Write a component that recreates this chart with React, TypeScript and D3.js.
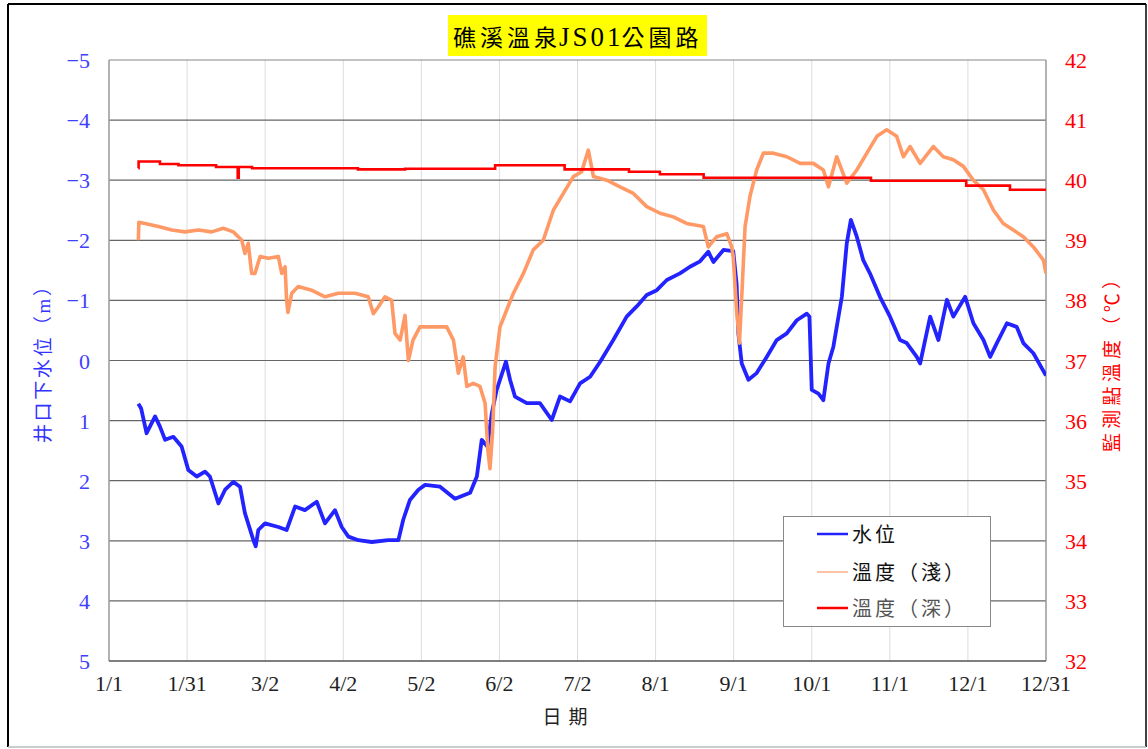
import React from 'react';
import * as d3 from 'd3';

// ---------- data ----------
const xTickLabels = ['1/1', '1/31', '3/2', '4/2', '5/2', '6/2', '7/2', '8/1', '9/1', '10/1', '11/1', '12/1', '12/31'];
const leftTicks = [-5, -4, -3, -2, -1, 0, 1, 2, 3, 4, 5];
const rightTicks = [42, 41, 40, 39, 38, 37, 36, 35, 34, 33, 32];

// [day of year (0 = 1/1), water level below wellhead (m)]
const waterLevel: [number, number][] = [
  [11.4, 0.72], [12.5, 0.8], [14.6, 1.21], [17.9, 0.93], [19.8, 1.1], [21.8, 1.32], [25.0, 1.27],
  [28.2, 1.43], [30.8, 1.82], [34.1, 1.93], [37.3, 1.85], [39.2, 1.93], [42.5, 2.38], [45.1, 2.15],
  [48.3, 2.02], [50.9, 2.1], [52.8, 2.54], [56.1, 2.99], [57.0, 3.09], [58.0, 2.82], [60.6, 2.71],
  [65.8, 2.77], [69.0, 2.82], [72.3, 2.43], [76.1, 2.49], [80.7, 2.35], [83.9, 2.71], [87.8, 2.49],
  [90.4, 2.77], [93.0, 2.93], [96.9, 2.99], [102.1, 3.02], [108.5, 2.99], [112.4, 2.99], [114.3, 2.65],
  [116.9, 2.32], [120.2, 2.15], [122.8, 2.07], [128.6, 2.1], [134.4, 2.3], [140.3, 2.2], [142.9, 1.93],
  [144.8, 1.32], [147.0, 1.43], [148.7, 0.88], [150.6, 0.49], [154.2, 0.02], [155.8, 0.32], [157.7, 0.6],
  [162.3, 0.71], [167.4, 0.71], [172.0, 0.99], [175.2, 0.6], [179.1, 0.68], [183.0, 0.38], [186.9, 0.27],
  [190.8, 0.02], [195.9, -0.34], [201.1, -0.73], [205.0, -0.9], [208.9, -1.09], [212.8, -1.17],
  [216.7, -1.34], [221.8, -1.45], [225.7, -1.56], [229.6, -1.65], [232.8, -1.81], [234.8, -1.64],
  [238.7, -1.84], [242.5, -1.82], [243.8, -1.28], [244.5, -0.45], [245.8, 0.05], [248.4, 0.32],
  [251.6, 0.21], [255.5, -0.06], [259.4, -0.34], [263.3, -0.45], [267.2, -0.67], [271.1, -0.78],
  [272.1, -0.73], [273.0, 0.49], [275.6, 0.55], [277.5, 0.66], [279.5, 0.05], [281.4, -0.23],
  [284.7, -1.06], [286.6, -1.95], [288.2, -2.34], [290.5, -2.06], [293.0, -1.67], [295.6, -1.45],
  [299.5, -1.06], [303.4, -0.73], [307.3, -0.34], [309.9, -0.29], [313.8, -0.06], [315.1, 0.05],
  [319.0, -0.73], [322.2, -0.34], [325.5, -1.01], [328.0, -0.73], [332.6, -1.06], [335.8, -0.62],
  [339.7, -0.34], [342.3, -0.06], [344.9, -0.29], [348.8, -0.62], [352.6, -0.56], [355.2, -0.29],
  [359.1, -0.12], [364, 0.25],
];

// [day of year, shallow temperature (°C)]
const tempShallow: [number, number][] = [
  [11.4, 39.0], [11.6, 39.3], [14.0, 39.28], [19.2, 39.23], [24.4, 39.17], [29.5, 39.14], [34.7, 39.17],
  [39.9, 39.14], [44.4, 39.2], [48.3, 39.14], [51.6, 39.0], [52.8, 38.78], [54.1, 38.95], [55.4, 38.45],
  [56.7, 38.45], [58.7, 38.73], [61.9, 38.7], [65.8, 38.73], [67.1, 38.45], [68.4, 38.56], [69.0, 38.0],
  [69.5, 37.8], [71.0, 38.12], [73.5, 38.23], [78.7, 38.17], [83.9, 38.06], [89.1, 38.12], [95.6, 38.12],
  [100.7, 38.06], [102.7, 37.78], [104.6, 37.89], [107.2, 38.06], [109.8, 38.0], [111.1, 37.45],
  [113.1, 37.34], [115.0, 37.75], [116.3, 37.0], [118.1, 37.34], [120.8, 37.56], [126.0, 37.56],
  [131.2, 37.56], [133.8, 37.34], [135.7, 36.79], [137.6, 37.06], [139.0, 36.57], [141.5, 36.62],
  [144.1, 36.57], [146.1, 36.29], [147.2, 35.5], [148.0, 35.2], [149.0, 35.8], [150.0, 36.9],
  [151.9, 37.56], [154.5, 37.84], [157.1, 38.12], [161.0, 38.45], [164.8, 38.84], [168.7, 39.0],
  [172.6, 39.5], [176.5, 39.78], [180.4, 40.06], [183.6, 40.14], [186.2, 40.5], [188.2, 40.06],
  [193.4, 40.0], [198.5, 39.89], [203.7, 39.78], [208.9, 39.56], [214.1, 39.45], [219.2, 39.39],
  [224.4, 39.28], [230.9, 39.23], [232.8, 38.89], [236.1, 39.06], [240.0, 39.11], [241.9, 38.89],
  [242.5, 38.73], [243.8, 37.84], [244.9, 37.29], [245.8, 38.06], [247.1, 39.23], [249.0, 39.73],
  [251.6, 40.17], [254.2, 40.45], [258.1, 40.45], [263.3, 40.39], [268.5, 40.28], [273.6, 40.28],
  [277.5, 40.17], [279.5, 39.89], [282.7, 40.39], [286.6, 39.95], [290.5, 40.17], [294.4, 40.45],
  [298.3, 40.73], [302.1, 40.84], [306.0, 40.73], [308.6, 40.39], [311.2, 40.56], [315.1, 40.28],
  [320.2, 40.56], [324.1, 40.39], [328.0, 40.34], [331.9, 40.23], [335.8, 40.0], [339.7, 39.84],
  [343.6, 39.5], [347.4, 39.28], [351.3, 39.17], [355.2, 39.06], [359.1, 38.89], [363.0, 38.67],
  [364, 38.45],
];

// [day of year, deep temperature (°C)] – stepwise logger readings
const tempDeep: [number, number][] = [
  [11.4, 40.2], [11.5, 40.31], [19.8, 40.27], [27.0, 40.25], [41.6, 40.22], [50.0, 40.04], [50.4, 40.22],
  [55.6, 40.2], [96.7, 40.18], [115.0, 40.19], [150.0, 40.25], [177.0, 40.18], [202.0, 40.14],
  [214.0, 40.1], [231.0, 40.04], [296.0, 39.99], [333.0, 39.91], [350.0, 39.84], [364, 39.84],
];

const titleParts = ['礁溪溫泉', 'JS01', '公園路'];
const leftTitle = '井口下水位（m）';
const rightTitle = '監測點溫度（℃）';
const xTitle = '日期';
const legendLabels = ['水位', '溫度（淺）', '溫度（深）'];

// ---------- styles ----------
const W = 1148;
const H = 749;
const M = { left: 109, right: 1046, top: 60, bottom: 661 };
const BLUE = '#2323FF';
const ORANGE = '#FF9966';
const RED = '#FF0000';
const FONT = '"Liberation Serif", "Noto Sans CJK TC", serif';

export default function App() {
  const x = d3.scaleLinear().domain([0, 364]).range([M.left, M.right]);
  const yL = d3.scaleLinear().domain([-5, 5]).range([M.top, M.bottom]);
  const yR = d3.scaleLinear().domain([42, 32]).range([M.top, M.bottom]);

  const tickDays = xTickLabels.map((_, i) => (i * 364) / (xTickLabels.length - 1));

  const blueLine = d3.line<[number, number]>().x((d) => x(d[0])).y((d) => yL(d[1]));
  const orangeLine = d3.line<[number, number]>().x((d) => x(d[0])).y((d) => yR(d[1]));
  const redLine = d3
    .line<[number, number]>()
    .x((d) => x(d[0]))
    .y((d) => yR(d[1]))
    .curve(d3.curveStepAfter);

  const legendColors = [BLUE, ORANGE, RED];
  const legendWidths = [2.5, 1.2, 2.5];
  const legendTextColors = ['#111', '#111', '#555'];
  const legendRows = [534, 572, 608];

  return (
    <svg
      width={W}
      height={H}
      style={{ position: 'absolute', left: 0, top: 0, background: '#fff' }}
      fontFamily={FONT}
    >
      <rect x={0} y={0} width={W} height={H} fill="#fff" />
      {/* outer frame */}
      <line x1={8} y1={4} x2={1146} y2={4} stroke="#000" strokeWidth={2} />
      <line x1={8} y1={4} x2={8} y2={747} stroke="#000" strokeWidth={2} />
      <line x1={1146} y1={4} x2={1146} y2={747} stroke="#000" strokeWidth={1.5} />
      <line x1={8} y1={747} x2={1146} y2={747} stroke="#bbb" strokeWidth={1.5} />

      <defs>
        <clipPath id="plotClip">
          <rect x={M.left} y={M.top} width={M.right - M.left} height={M.bottom - M.top} />
        </clipPath>
      </defs>

      {/* vertical grid */}
      {tickDays.slice(1, -1).map((d, i) => (
        <line key={'vg' + i} x1={x(d)} x2={x(d)} y1={M.top} y2={M.bottom} stroke="#dcdcdc" strokeWidth={1} />
      ))}
      {/* horizontal grid */}
      {leftTicks.slice(0, -1).map((t) => (
        <line key={'hg' + t} x1={M.left} x2={M.right} y1={yL(t)} y2={yL(t)} stroke={t === -5 ? '#888' : '#666'} strokeWidth={1.2} />
      ))}
      {/* plot frame */}
      <line x1={M.left} x2={M.left} y1={M.top} y2={M.bottom} stroke="#999" strokeWidth={1.5} />
      <line x1={M.right} x2={M.right} y1={M.top} y2={M.bottom} stroke="#999" strokeWidth={1.5} />
      <line x1={M.left} x2={M.right} y1={M.bottom} y2={M.bottom} stroke="#555" strokeWidth={1.5} />

      {/* series */}
      <g clipPath="url(#plotClip)">
        <path d={blueLine(waterLevel) || ''} fill="none" stroke={BLUE} strokeWidth={3.8} strokeLinejoin="round" />
        <path d={orangeLine(tempShallow) || ''} fill="none" stroke={ORANGE} strokeWidth={3.6} strokeLinejoin="round" />
        <path d={redLine(tempDeep) || ''} fill="none" stroke={RED} strokeWidth={2.6} />
      </g>

      {/* left ticks */}
      {leftTicks.map((t) => (
        <text key={'lt' + t} x={90} y={yL(t) + 8} textAnchor="end" fontSize={22} fill="#4040FF">
          {t < 0 ? '−' + Math.abs(t) : String(t)}
        </text>
      ))}
      {/* right ticks */}
      {rightTicks.map((t) => (
        <text key={'rt' + t} x={1065} y={yR(t) + 8} textAnchor="start" fontSize={22} fill={RED}>
          {t}
        </text>
      ))}
      {/* x ticks */}
      {xTickLabels.map((lab, i) => (
        <text key={'xt' + i} x={x(tickDays[i])} y={691} textAnchor="middle" fontSize={22} fill="#222">
          {lab}
        </text>
      ))}

      {/* axis titles */}
      <text x={565} y={724} textAnchor="middle" fontSize={19} fill="#222" textLength={45} lengthAdjust="spacing">
        {xTitle}
      </text>
      <text
        transform="translate(50,360) rotate(-90)"
        textAnchor="middle"
        fontSize={19}
        fill="#3333FF"
        textLength={166}
        lengthAdjust="spacing"
      >
        {leftTitle}
      </text>
      <text
        transform="translate(1119,361) rotate(-90)"
        textAnchor="middle"
        fontSize={19}
        fill={RED}
        textLength={182}
        lengthAdjust="spacing"
      >
        {rightTitle}
      </text>

      {/* title */}
      <rect x={448} y={15} width={259} height={41} fill="#FFFF00" />
      <text x={453} y={46} fill="#000">
        <tspan fontSize={23} letterSpacing={4}>{titleParts[0]}</tspan>
        <tspan fontSize={27} letterSpacing={3} dx={-2}>{titleParts[1]}</tspan>
        <tspan fontSize={23} letterSpacing={4} dx={-2}>{titleParts[2]}</tspan>
      </text>

      {/* legend */}
      <rect x={783.5} y={516.5} width={207} height={110} fill="#fff" stroke="#888" strokeWidth={1} />
      {legendLabels.map((lab, i) => (
        <g key={'lg' + i}>
          <line x1={817} x2={848} y1={legendRows[i]} y2={legendRows[i]} stroke={legendColors[i]} strokeWidth={legendWidths[i]} />
          <text x={852} y={legendRows[i] + 8} fontSize={20} fill={legendTextColors[i]} letterSpacing={3}>
            {lab}
          </text>
        </g>
      ))}
    </svg>
  );
}
